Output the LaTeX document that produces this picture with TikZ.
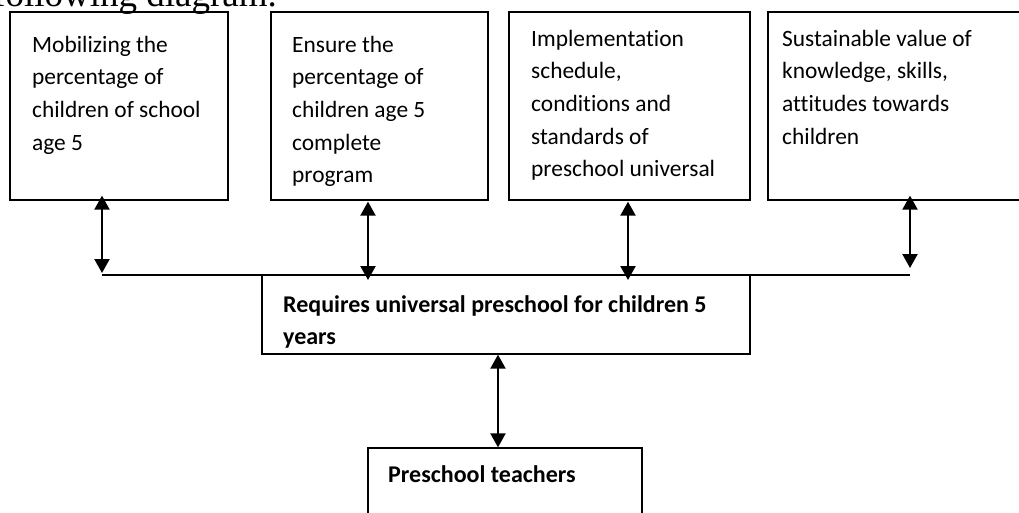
\documentclass[tikz,border=0pt]{standalone}
\usepackage{fontspec}
\setmainfont{Carlito}[Ligatures={NoCommon}]
\newfontfamily\timesfont{Liberation Serif}
\usetikzlibrary{arrows.meta,calc}
\begin{document}
\begin{tikzpicture}[x=1pt,y=-1pt,
  box/.style={draw, line width=1.3pt, inner sep=0pt},
  txt/.style={anchor=base west, inner sep=0pt, align=left, font=\fontsize{23.4}{32.7}\selectfont},
  btxt/.style={anchor=base west, inner sep=0pt, align=left, font=\fontsize{24}{32}\selectfont\bfseries},
  biarrow/.style={line width=2.2pt, {Triangle[width=15pt,length=14pt]}-{Triangle[width=15pt,length=14pt]}},
  busline/.style={line width=1.3pt}]
\useasboundingbox (0,0) rectangle (1019,512);
\clip (0,0) rectangle (1019,512);
\fill[white] (0,0) rectangle (1019,512);

\node[anchor=base west, inner sep=0pt, font=\timesfont\fontsize{37}{40}\selectfont] (head) at (-7,6) {following diagram.};

\node[box, minimum width=218pt, minimum height=188pt] (b1) at (119,106) {};
\node[box, minimum width=217pt, minimum height=188pt] (b2) at (379.5,106) {};
\node[box, minimum width=241pt, minimum height=188pt] (b3) at (629.5,106) {};
\node[box, minimum width=262pt, minimum height=188pt] (b4) at (899,106) {};
\node[box, minimum width=488pt, minimum height=79pt] (mid) at (506,314.5) {};
\node[box, minimum width=274pt, minimum height=82pt] (bot) at (505,489) {};

% multi-line nodes: base anchor sits on the last line
\node[txt] (t1) at (32,150.1) {Mobilizing the\\percentage of\\children of school\\age 5};
\node[txt] (t2) at (292,182.8) {Ensure the\\percentage of\\children age 5\\complete\\program};
\node[txt] (t3) at (531,176.8) {Implementation\\schedule,\\conditions and\\standards of\\preschool universal};
\node[txt] (t4) at (782,144.1) {Sustainable value of\\knowledge, skills,\\attitudes towards\\children};
\node[btxt] (tm) at (283,344) {Requires universal preschool for children 5\\years};
\node[btxt] (tb) at (388,482) {Preschool teachers};

\coordinate (j1) at (102,275);
\coordinate (j2) at (368,275);
\coordinate (j3) at (628,275);
\coordinate (j4) at (910,275);

\draw[busline] (j1) -- (j4);

\draw[biarrow] ($(b1.south -| j1)+(0,-5)$) -- ($(j1)+(0,-2)$);
\draw[biarrow] ($(b2.south -| j2)+(0,1)$) -- ($(j2)+(0,5)$);
\draw[biarrow] ($(b3.south -| j3)+(0,1)$) -- ($(j3)+(0,5)$);
\draw[biarrow] ($(b4.south -| j4)+(0,-5)$) -- ($(j4)+(0,-7)$);
\draw[biarrow] ([xshift=-8pt]mid.south) -- ([xshift=-8pt]mid.south |- bot.north);
\end{tikzpicture}
\end{document}
